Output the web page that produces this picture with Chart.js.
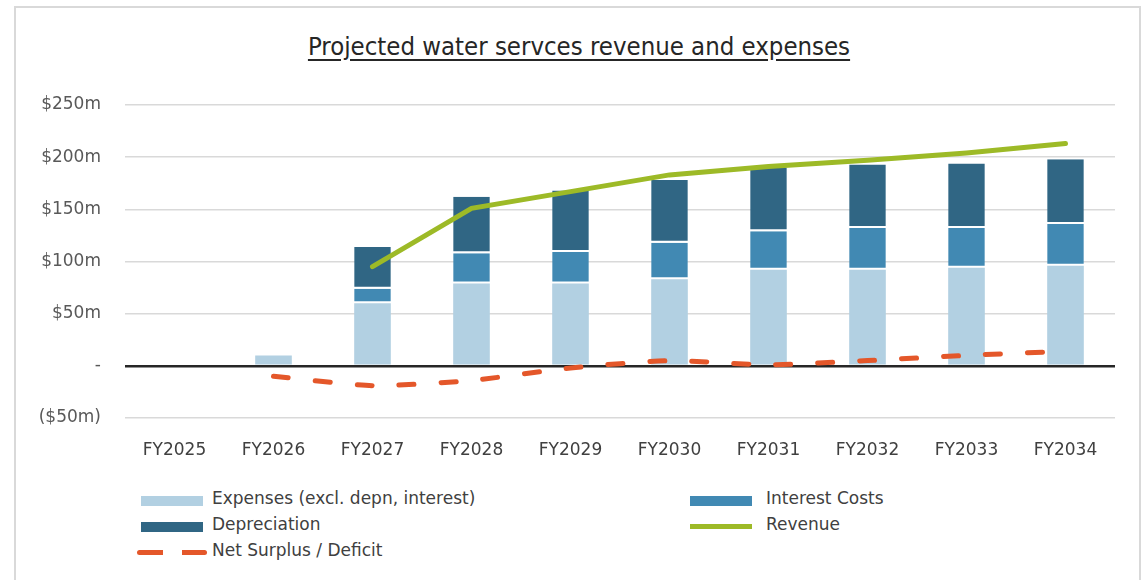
<!DOCTYPE html>
<html lang="en">

<head>
  <meta charset="UTF-8">
  <title>Projected water servces revenue and expenses</title>
  <script src="https://cdn.jsdelivr.net/npm/chart.js"></script>
  <style>
    body {
      margin: 0;
      background: #fff;
      font-family: 'DejaVu Sans', sans-serif;
    }

    #frame {
      position: absolute;
      left: 14px;
      top: 6px;
      width: 1127px;
      height: 600px;
      border: 2px solid #d9d9d9;
      box-sizing: border-box;
    }

    #title {
      position: absolute;
      left: 0;
      width: 1158px;
      top: 31px;
      text-align: center;
      font-family: 'DejaVu Sans Condensed', 'Liberation Sans Narrow', sans-serif;
      font-size: 25.5px;
      color: #262626;
      text-decoration: underline;
      text-underline-offset: 4px;
    }

    #chartBox {
      position: absolute;
      left: 0;
      top: 0;
      width: 1148px;
      height: 470px;
    }

    #legend {
      position: absolute;
      left: 0;
      top: 0;
    }

    .item {
      position: absolute;
      font-size: 17px;
      color: #404040;
      white-space: nowrap;
    }

    .swatch {
      position: absolute;
      width: 62px;
    }
  </style>
</head>

<body>
  <div id="frame"></div>
  <div id="title">Projected water servces revenue and expenses</div>
  <div id="chartBox">
    <canvas id="chart"></canvas>
  </div>
  <div id="legend"></div>

  <script>
    // values, $m
    const years = ['FY2025', 'FY2026', 'FY2027', 'FY2028', 'FY2029', 'FY2030', 'FY2031', 'FY2032', 'FY2033', 'FY2034'];
    const expenses = [0, 10, 60, 79, 79, 83, 92, 92, 94, 96];
    const interest = [0, 0, 14, 29, 30, 35, 37, 40, 38, 40];
    const depreciation = [0, 0, 40, 54, 59, 60, 61, 61, 62, 62];
    const revenue = [null, null, 95, 151, 167, 183, 191, 197, 204, 213];
    const netSurplus = [null, -10, -19, -14, -2, 5, 1, 5, 10, 14];

    const colours = {
      expenses: '#b2d0e2',
      interest: '#4189b3',
      depreciation: '#306684',
      revenue: '#9dba27',
      net: '#e4572a'
    };

    function moneyLabel(v) {
      if (v === 0) return '-';
      if (v < 0) return '($' + Math.abs(v) + 'm)';
      return '$' + v + 'm';
    }

    // white gap under each stacked segment, except the bottom one
    const barStyle = {
      type: 'bar',
      stack: 'costs',
      borderColor: '#ffffff',
      borderSkipped: false,
      borderWidth: { top: 0, bottom: 2, left: 0, right: 0 },
      barPercentage: 0.37,
      categoryPercentage: 1,
      order: 2
    };

    const chart = new Chart(document.getElementById('chart'), {
      data: {
        labels: years,
        datasets: [
          { ...barStyle, label: 'Expenses (excl. depn, interest)', data: expenses, backgroundColor: colours.expenses, borderWidth: 0 },
          { ...barStyle, label: 'Interest Costs', data: interest, backgroundColor: colours.interest },
          { ...barStyle, label: 'Depreciation', data: depreciation, backgroundColor: colours.depreciation },
          {
            type: 'line', label: 'Revenue', data: revenue, stack: 'revenue',
            borderColor: colours.revenue, borderWidth: 5, borderCapStyle: 'round',
            pointRadius: 0, tension: 0, order: 0
          },
          {
            type: 'line', label: 'Net Surplus / Deficit', data: netSurplus, stack: 'net',
            borderColor: colours.net, borderWidth: 5, borderCapStyle: 'round',
            borderDash: [15, 27], pointRadius: 0, tension: 0.2, order: 0
          }
        ]
      },
      options: {
        responsive: true,
        maintainAspectRatio: false,
        animation: false,
        layout: { padding: { top: 105, right: 33, left: 0, bottom: 0 } },
        plugins: {
          legend: { display: false },
          tooltip: { enabled: false }
        },
        scales: {
          x: {
            stacked: true,
            afterFit: (scale) => { scale.height = 52; },
            grid: { display: false, drawTicks: false },
            border: { display: false },
            ticks: {
              padding: 22,
              color: '#404040',
              font: { family: 'DejaVu Sans', size: 17 }
            }
          },
          y: {
            stacked: true,
            min: -50,
            max: 250,
            afterFit: (scale) => { scale.width = 125; },
            border: { display: false },
            grid: {
              drawTicks: false,
              color: (c) => c.tick && c.tick.value === 0 ? '#262626' : '#d9d9d9',
              lineWidth: (c) => c.tick && c.tick.value === 0 ? 2.5 : 1.5
            },
            ticks: {
              stepSize: 50,
              padding: 24,
              color: '#595959',
              font: { family: 'DejaVu Sans', size: 17 },
              callback: (v) => moneyLabel(v)
            }
          }
        }
      }
    });

    // legend below the chart, two columns like the original
    const legendSpots = [
      { ds: 0, x: 141, y: 488 },
      { ds: 1, x: 690, y: 488 },
      { ds: 2, x: 141, y: 514 },
      { ds: 3, x: 690, y: 514 },
      { ds: 4, x: 137, y: 540 }
    ];
    const legend = document.getElementById('legend');
    legendSpots.forEach((spot) => {
      const ds = chart.data.datasets[spot.ds];
      const sw = document.createElement('div');
      sw.className = 'swatch';
      sw.style.left = spot.x + 'px';
      if (ds.type === 'bar') {
        sw.style.top = (spot.y + 8) + 'px';
        sw.style.height = '10px';
        sw.style.background = ds.backgroundColor;
      } else if (ds.borderDash) {
        sw.style.top = (spot.y + 10) + 'px';
        sw.style.height = '5px';
        sw.style.width = '70px';
        sw.style.borderRadius = '3px';
        sw.style.background = 'linear-gradient(to right, ' + ds.borderColor + ' 0 26px, transparent 26px 45px, ' + ds.borderColor + ' 45px 70px)';
      } else {
        sw.style.top = (spot.y + 10) + 'px';
        sw.style.height = '5px';
        sw.style.background = ds.borderColor;
      }
      legend.appendChild(sw);

      const txt = document.createElement('div');
      txt.className = 'item';
      txt.textContent = ds.label;
      txt.style.left = (spot.ds === 1 || spot.ds === 3 ? 766 : 212) + 'px';
      txt.style.top = spot.y + 'px';
      legend.appendChild(txt);
    });
  </script>
</body>

</html>
